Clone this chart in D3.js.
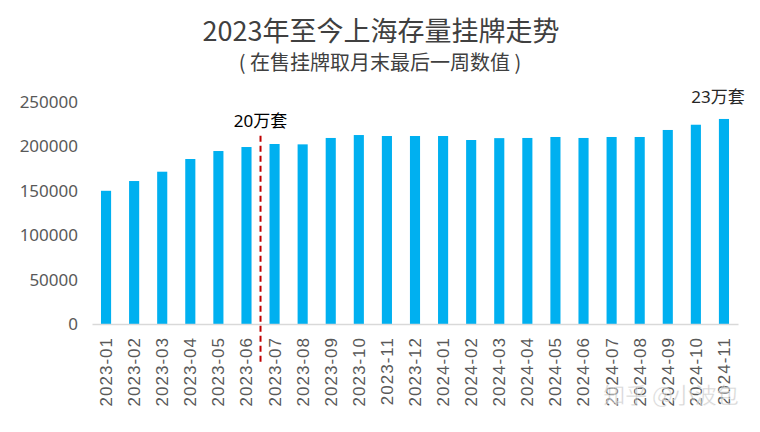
<!DOCTYPE html>
<html>
<head>
<meta charset="utf-8">
<script src="https://cdn.jsdelivr.net/npm/d3@7/dist/d3.min.js"></script>
<style>
  body { margin: 0; background: #fff; }
  svg text { font-family: "Noto Sans", "Noto Sans CJK SC", sans-serif; }
</style>
</head>
<body>
<svg id="chart" width="760" height="432"></svg>
<script>
// data
var months = ["2023-01", "2023-02", "2023-03", "2023-04", "2023-05", "2023-06",
  "2023-07", "2023-08", "2023-09", "2023-10", "2023-11", "2023-12",
  "2024-01", "2024-02", "2024-03", "2024-04", "2024-05", "2024-06",
  "2024-07", "2024-08", "2024-09", "2024-10", "2024-11"];
var listings = [150000, 161000, 171500, 185800, 194800, 199300,
  202700, 202300, 209500, 212800, 211700, 211700,
  211700, 207200, 209300, 209500, 210600, 209500,
  210600, 210600, 218500, 224400, 230900];
var yTicks = [0, 50000, 100000, 150000, 200000, 250000];

var svg = d3.select("#chart");
var MARGINS = { top: 102, right: 22, bottom: 108, left: 92 };
var WIDTH = 760 - MARGINS.left - MARGINS.right;
var HEIGHT = 432 - MARGINS.top - MARGINS.bottom;

var x = d3.scaleBand().domain(months).range([MARGINS.left, MARGINS.left + WIDTH]).paddingInner(0.64).paddingOuter(0.32);
var y = d3.scaleLinear().domain([0, 250000]).range([MARGINS.top + HEIGHT, MARGINS.top]);

// title
svg.append("text")
  .attr("x", 381).attr("y", 41)
  .attr("text-anchor", "middle")
  .style("font-size", "27px")
  .style("fill", "#404040")
  .style("font-family", "'Noto Sans CJK SC', sans-serif")
  .text("2023年至今上海存量挂牌走势");
svg.append("text")
  .attr("x", 380).attr("y", 70)
  .attr("text-anchor", "middle")
  .style("font-size", "20px")
  .style("fill", "#404040")
  .style("font-family", "'Noto Sans CJK SC', sans-serif")
  .text("( 在售挂牌取月末最后一周数值 )");

// bars
svg.selectAll(".bar")
  .data(listings)
  .enter().append("rect")
  .attr("class", "bar")
  .attr("x", (d, i) => x(months[i]))
  .attr("y", d => y(d))
  .attr("width", x.bandwidth())
  .attr("height", d => y(0) - y(d))
  .style("fill", "#00b0f0");

// y axis
var yAxis = svg.append("g")
  .attr("transform", "translate(" + (MARGINS.left - 12) + ",0)")
  .call(d3.axisLeft(y).tickValues(yTicks).tickSize(0).tickFormat(d3.format("d")));
yAxis.select(".domain").remove();
yAxis.selectAll("text")
  .style("font-size", "17px")
  .style("fill", "#595959")
  .attr("x", -2);

// x axis
var xAxis = svg.append("g")
  .attr("transform", "translate(0," + y(0) + ")")
  .call(d3.axisBottom(x).tickSize(0));
xAxis.select(".domain").attr("stroke", "#d9d9d9").attr("stroke-width", 1.5);
xAxis.selectAll("text")
  .attr("transform", "rotate(-90)")
  .attr("text-anchor", "end")
  .attr("x", -13)
  .attr("y", 0)
  .attr("dy", "0.35em")
  .style("font-family", "'Liberation Sans', Arial, sans-serif")
  .style("font-size", "17px")
  .style("letter-spacing", "1px")
  .style("fill", "#595959");

// red dashed divider between 2023-06 and 2023-07
var splitX = (x(months[5]) + x.bandwidth() + x(months[6])) / 2;
svg.append("line")
  .attr("x1", splitX).attr("x2", splitX)
  .attr("y1", y(212000)).attr("y2", y(0) + 40)
  .style("stroke", "#c00000")
  .style("stroke-width", 2)
  .style("stroke-dasharray", "6,4");

// annotations
svg.append("text")
  .attr("x", splitX).attr("y", y(222000))
  .attr("text-anchor", "middle")
  .style("font-size", "17px")
  .style("fill", "#000")
  .text("20万套");
svg.append("text")
  .attr("x", x(months[22]) + x.bandwidth() / 2 - 6).attr("y", y(listings[22]) - 16)
  .attr("text-anchor", "middle")
  .style("font-size", "17px")
  .style("fill", "#262626")
  .text("23万套");

// watermark
svg.append("text")
  .attr("x", 671).attr("y", 403)
  .attr("text-anchor", "middle")
  .style("font-size", "22px")
  .style("fill", "#9a9a9a")
  .style("fill-opacity", 0.45)
  .style("stroke", "#ffffff")
  .style("stroke-opacity", 0.6)
  .style("stroke-width", 0.8)
  .style("font-family", "'Noto Sans CJK SC', sans-serif")
  .text("知乎 @小波包");
</script>
</body>
</html>
